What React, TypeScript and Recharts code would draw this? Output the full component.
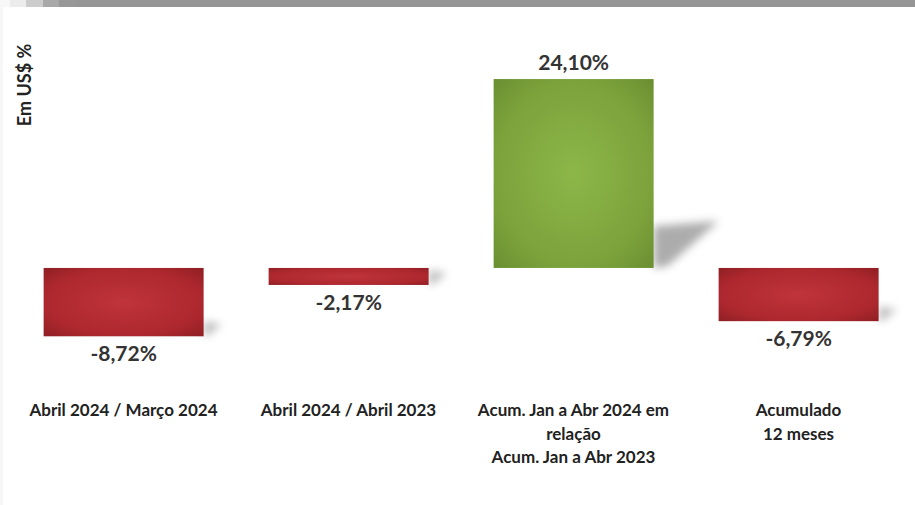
import React from 'react';
import { BarChart, Bar, XAxis, YAxis, LabelList, Cell } from 'recharts';

const categories: string[][] = [
  ['Abril 2024 / Março 2024'],
  ['Abril 2024 / Abril 2023'],
  ['Acum. Jan a Abr 2024 em', 'relação', 'Acum. Jan a Abr 2023'],
  ['Acumulado', '12 meses'],
];
const values: number[] = [-8.72, -2.17, 24.1, -6.79];
const yAxisTitle = 'Em US$ %';

const data = categories.map((lines, i) => ({ name: lines.join('\n'), value: values[i] }));

const fmt = (v: number) => v.toFixed(2).replace('.', ',') + '%';

const BarShape = (props: any) => {
  const { x, y, width, height } = props;
  const top = Math.min(y, y + height);
  const h = Math.abs(height);
  const bx = x + width;
  const by = top + h;
  const pos = (props.payload?.value ?? 0) >= 0;
  const shadow = pos
    ? `${bx},${by - 42} ${bx + 65},${by - 47} ${bx + 14},${by - 2} ${bx},${by}`
    : `${bx},${by - 15} ${bx + 18},${by - 12} ${bx + 5},${by - 1} ${bx},${by}`;
  return (
    <g>
      <polygon points={shadow} fill="#8a8a8a" opacity={pos ? 0.7 : 0.55} filter="url(#blurShadow)" />
      <rect x={x} y={top} width={width} height={h} fill={pos ? 'url(#gradGreen)' : 'url(#gradRed)'} />
    </g>
  );
};

const ValueLabel = (props: any) => {
  const { x, y, width, height, value } = props;
  const top = Math.min(y, y + height);
  const h = Math.abs(height);
  const cx = x + width / 2;
  const cy = value >= 0 ? top - 16 : top + h + 18;
  return (
    <text x={cx} y={cy} dy={7} textAnchor="middle" fontFamily="Lato" fontWeight={700} fontSize={21} fill="#333">
      {fmt(value)}
    </text>
  );
};

const CatTick = (props: any) => {
  const { x, y, payload } = props;
  const lines = String(payload.value).split('\n');
  return (
    <g>
      {lines.map((l, i) => (
        <text key={i} x={x} y={y + 46 + i * 23.5} textAnchor="middle" fontFamily="Lato" fontWeight={700} fontSize={17} fill="#222">
          {l}
        </text>
      ))}
    </g>
  );
};

export default function App() {
  return (
    <div style={{ position: 'absolute', left: 0, top: 0, width: 915, height: 505, background: '#fff', overflow: 'hidden' }}>
      <div style={{ position: 'absolute', left: 0, top: 0, width: 915, height: 7, background: '#959595' }} />
      <div style={{ position: 'absolute', left: 0, top: 0, width: 10, height: 7, background: '#f7f7f7' }} />
      <div style={{ position: 'absolute', left: 10, top: 0, width: 16, height: 7, background: '#ececec' }} />
      <div style={{ position: 'absolute', left: 26, top: 0, width: 17, height: 7, background: '#cccccc' }} />
      <div style={{ position: 'absolute', left: 43, top: 0, width: 16, height: 7, background: '#a8a8a8' }} />
      <div style={{ position: 'absolute', left: 59, top: 0, width: 16, height: 7, background: '#979797' }} />
      <div style={{ position: 'absolute', left: 0, top: 7, width: 3, height: 498, background: '#f7f7f7' }} />
      <div style={{ position: 'absolute', left: 0, top: 0 }}>
        <BarChart width={915} height={505} data={data} margin={{ top: 72, right: 4, bottom: 43, left: 11 }} barCategoryGap="14.5%">
          <defs>
            <radialGradient id="gradRed" cx="50%" cy="50%" r="70%">
              <stop offset="0%" stopColor="#c0333a" />
              <stop offset="70%" stopColor="#ad282e" />
              <stop offset="100%" stopColor="#8f1f24" />
            </radialGradient>
            <radialGradient id="gradGreen" cx="50%" cy="50%" r="70%">
              <stop offset="0%" stopColor="#8cb748" />
              <stop offset="70%" stopColor="#7ca23c" />
              <stop offset="100%" stopColor="#6a8f31" />
            </radialGradient>
            <filter id="blurShadow" x="-50%" y="-50%" width="200%" height="200%">
              <feGaussianBlur stdDeviation="4" />
            </filter>
          </defs>
          <XAxis dataKey="name" axisLine={false} tickLine={false} height={100} tick={<CatTick />} interval={0} />
          <YAxis hide domain={[-12, 25]} allowDataOverflow />
          <Bar dataKey="value" isAnimationActive={false} shape={<BarShape />}>
            {data.map((d, i) => (
              <Cell key={i} fill={d.value >= 0 ? '#7ca23c' : '#ad282e'} />
            ))}
            <LabelList dataKey="value" content={<ValueLabel />} />
          </Bar>
        </BarChart>
      </div>
      <svg style={{ position: 'absolute', left: 0, top: 0 }} width={60} height={160}>
        <text transform="translate(31,85) rotate(-90)" textAnchor="middle" fontFamily="Lato" fontWeight={700} fontSize={18} fill="#222">
          {yAxisTitle}
        </text>
      </svg>
    </div>
  );
}
